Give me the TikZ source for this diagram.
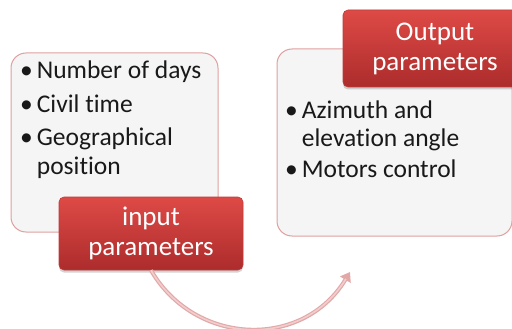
\documentclass[tikz,border=0pt]{standalone}
\usepackage{fontspec}
\setmainfont[Ligatures=NoCommon]{Carlito}
\usetikzlibrary{arrows.meta,shadows}
\definecolor{boxfill}{RGB}{245,245,245}
\definecolor{boxline}{RGB}{222,160,160}
\definecolor{redtop}{RGB}{222,74,70}
\definecolor{redbot}{RGB}{172,44,44}
\definecolor{redline}{RGB}{190,60,58}
\definecolor{arrowc}{RGB}{226,168,168}
\definecolor{arrowin}{RGB}{242,205,205}
\tikzset{
  panel/.style={draw=boxline, line width=1pt, fill=boxfill, rounded corners=15pt},
  label/.style={draw=redline, line width=0.6pt, rounded corners=5pt, top color=redtop, bottom color=redbot,
    drop shadow={opacity=0.35, shadow xshift=0pt, shadow yshift=-2.5pt},
    text=white, font=\fontsize{27}{30}\selectfont, align=center, inner sep=0pt},
  items/.style={anchor=north west, inner sep=0pt, font=\fontsize{25.5}{29}\selectfont, text=black!90},
}
\begin{document}
\begin{tikzpicture}[x=1pt,y=-1pt]
\useasboundingbox (0,0) rectangle (512,329);
% panels
\path[panel] (11,53) rectangle (218,232);
\path[panel] (277,49) rectangle (512,236);
% left items
\node[items] (ltext) at (20,58.5) {%
  \begin{tabular}{@{}l@{\hspace{4pt}}l@{}}
  \textbullet & Number of days\\[4.3pt]
  \textbullet & Civil time\\[4.3pt]
  \textbullet & Geographical\\
              & position
  \end{tabular}};
% right items
\node[items] (rtext) at (285,97.5) {%
  \begin{tabular}{@{}l@{\hspace{4pt}}l@{}}
  \textbullet & Azimuth and\\
              & elevation angle\\[2pt]
  \textbullet & Motors control
  \end{tabular}};
% label boxes
\node[label, minimum width=184pt, minimum height=73pt] (inp) at (151,233.5) {input\\parameters};
\node[label, minimum width=184pt, minimum height=77pt] (outp) at (435,48.5) {Output\\parameters};
% arrow
\coordinate (aend) at (350,272);
\draw[line width=4pt, draw=arrowc, -{Triangle[length=9pt,width=12pt]}]
  (inp.south) .. controls (195,346) and (303,350) .. (aend);
\draw[line width=1.6pt, draw=arrowin, shorten >=8pt]
  (inp.south) .. controls (195,346) and (303,350) .. (aend);
\end{tikzpicture}
\end{document}
